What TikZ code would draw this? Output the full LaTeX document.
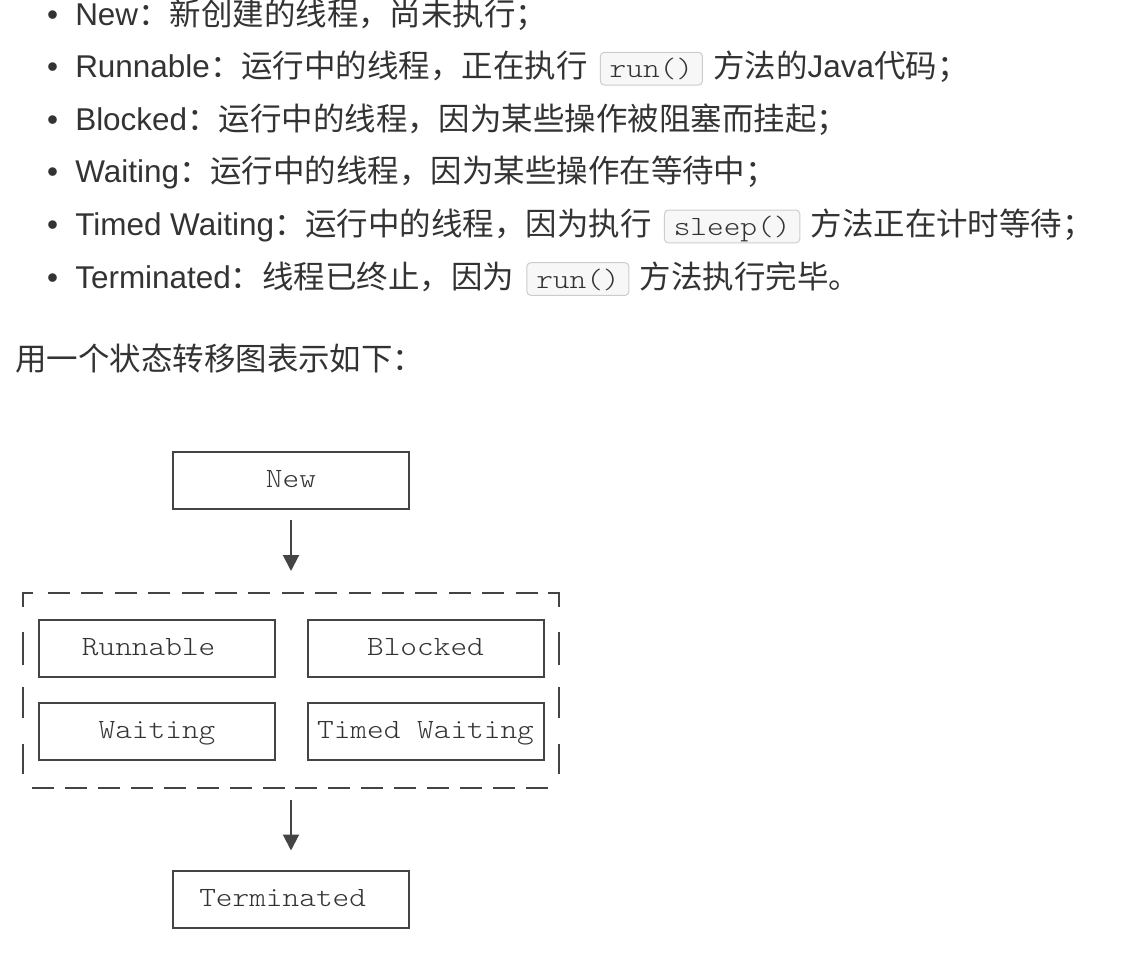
\documentclass[tikz,border=0pt]{standalone}
\usepackage{fontspec}
\setmainfont{Liberation Sans}
\setmonofont[FakeStretch=1.14]{lmmonolt10-regular.otf}
\newfontfamily\cjk{Noto Sans CJK SC}
\usetikzlibrary{arrows.meta}

\definecolor{ink}{HTML}{333333}
\definecolor{boxline}{HTML}{444444}
\definecolor{codeline}{HTML}{CCCCCC}
\definecolor{codebg}{HTML}{F7F7F7}
\newcommand{\bul}{\makebox[21.2pt][l]{\textbullet}}

\begin{document}
\begin{tikzpicture}[x=0.75pt,y=-0.75pt,>={Triangle[length=12pt,width=12pt]},
      para/.style={anchor=base west,inner sep=0pt,text=ink,
        font=\fontsize{23.6pt}{28pt}\selectfont},
      codebox/.style={anchor=base west,draw=codeline,fill=codebg,
        rounded corners=3pt,line width=0.75pt,inner xsep=7pt,inner ysep=0pt,
        text height=19pt,text depth=5.6pt,text=ink,
        font=\ttfamily\fontsize{20.9pt}{24pt}\selectfont},
      state/.style={draw=boxline,line width=1.5pt,minimum width=177pt,
        minimum height=42.75pt,inner sep=0pt,text height=13pt,text depth=2.5pt,
        text=ink,font=\ttfamily\fontsize{20.9pt}{24pt}\selectfont},
      frame/.style={draw=boxline,line width=1.5pt},
      flow/.style={->,draw=boxline,line width=1.5pt}]
      \useasboundingbox (0,0) rectangle (1148,978);

      % list of states
      \node[para] (l1) at (46.75,25) {\bul New{\cjk ：新创建的线程，尚未执行；}};
      \node[para] (l2) at (46.75,77.6) {\bul Runnable{\cjk ：运行中的线程，正在执行}};
      \node[codebox] (c2) at ([xshift=9pt]l2.base east) {run()};
      \node[para] (l2b) at ([xshift=7.5pt]c2.base east) {{\cjk 方法的}Java{\cjk 代码；}};
      \node[para] (l3) at (46.75,130.2) {\bul Blocked{\cjk ：运行中的线程，因为某些操作被阻塞而挂起；}};
      \node[para] (l4) at (46.75,182.8) {\bul Waiting{\cjk ：运行中的线程，因为某些操作在等待中；}};
      \node[para] (l5) at (46.75,235.4) {\bul Timed Waiting{\cjk ：运行中的线程，因为执行}};
      \node[codebox] (c5) at ([xshift=9pt]l5.base east) {sleep()};
      \node[para] (l5b) at ([xshift=7.5pt]c5.base east) {{\cjk 方法正在计时等待；}};
      \node[para] (l6) at (46.75,288) {\bul Terminated{\cjk ：线程已终止，因为}};
      \node[codebox] (c6) at ([xshift=9pt]l6.base east) {run()};
      \node[para] (l6b) at ([xshift=7.5pt]c6.base east) {{\cjk 方法执行完毕。}};

      \node[para] (intro) at (15,370.5) {{\cjk 用一个状态转移图表示如下：}};

      % state diagram
      \node[state] (new) at (291,480) {New};
      \node[state] (runnable) at (157,648) {Runnable\hphantom{x}};
      \node[state] (blocked) at (425.5,648) {Blocked};
      \node[state] (waiting) at (157,731) {Waiting};
      \node[state] (timed) at (425.5,731) {Timed Waiting};
      \node[state] (term) at (291,899) {Terminated\hphantom{x}};

      \coordinate (grptop) at (291,593);
      \coordinate (grpbot) at (291,788);

      % dashed group
      \draw[frame] (22.7,607) -- (22.7,593) -- (33,593);
      \draw[frame] (548,593) -- (558.5,593) -- (558.5,607);
      \draw[frame,dash pattern=on 16.5pt off 8.55pt] (48,593) -- (538,593);
      \draw[frame,dash pattern=on 16.5pt off 8.2pt] (32,788) -- (548,788);
      \foreach \ya/\yb in {632/665,687/718,744/774} {
        \draw[frame] (22.7,\ya) -- (22.7,\yb);
        \draw[frame] (558.5,\ya) -- (558.5,\yb);
      }

      \path
      (new) edge[flow,shorten <=7.5pt,shorten >=16.5pt] (grptop)
      (grpbot) edge[flow,shorten <=9pt,shorten >=14.25pt] (term)
      ;
\end{tikzpicture}
\end{document}
